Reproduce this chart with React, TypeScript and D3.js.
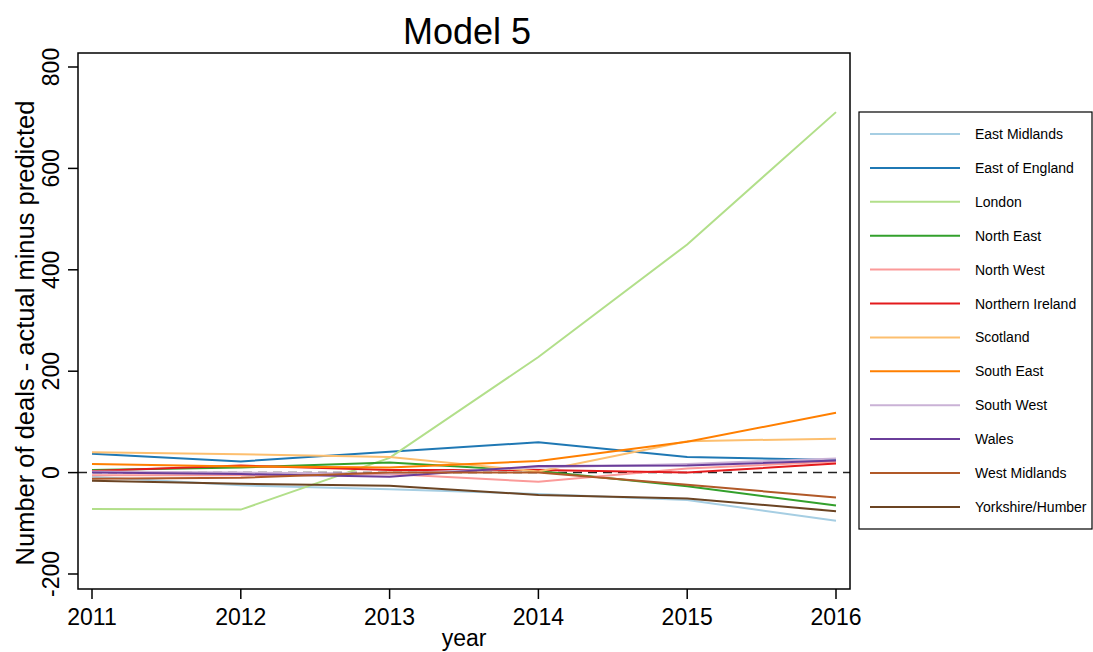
import React from "react";
import * as d3 from "d3";

const years = [2011, 2012, 2013, 2014, 2015, 2016];
const regions = [
  "East Midlands", "East of England", "London", "North East", "North West",
  "Northern Ireland", "Scotland", "South East", "South West", "Wales",
  "West Midlands", "Yorkshire/Humber",
];
const colors = [
  "#a6cee3", "#1f78b4", "#b2df8a", "#33a02c", "#fb9a99", "#e31a1c",
  "#fdbf6f", "#ff7f00", "#cab2d6", "#6a3d9a", "#b15928", "#6b4423",
];
const eastMidlands = [-8, -25, -33, -42, -54, -95];
const eastOfEngland = [37, 22, 41, 60, 31, 25];
const london = [-72, -73, 29, 228, 450, 711];
const northEast = [5, 10, 20, 3, -27, -65];
const northWest = [-5, -5, -3, -18, 8, 22];
const northernIreland = [3, 14, 5, 5, 0, 18];
const scotland = [40, 36, 31, 2, 62, 67];
const southEast = [17, 12, 10, 23, 61, 118];
const southWest = [2, 0, -2, 10, 17, 28];
const wales = [0, -3, -8, 13, 14, 24];
const westMidlands = [-12, -10, 0, 0, -24, -49];
const yorkshire = [-16, -22, -26, -44, -51, -76];
const series = [
  eastMidlands, eastOfEngland, london, northEast, northWest, northernIreland,
  scotland, southEast, southWest, wales, westMidlands, yorkshire,
];
const yTicks = [-200, 0, 200, 400, 600, 800];

const W = 1093, H = 652;
const box = { l: 78, t: 53, r: 850, b: 589 };
const font = "'Liberation Sans', Arial, Helvetica, sans-serif";

export default function App() {
  const x = d3.scaleLinear().domain([2011, 2016]).range([92, 836]);
  const y = d3.scaleLinear().domain([-200, 800]).range([574, 67]);
  const line = d3.line<number>().x((_, i) => x(years[i])).y((d) => y(d));
  const legX = 859, legY = 112, legStep = 33.9;
  return (
    <svg width={W} height={H} style={{ position: "absolute", left: 0, top: 0, background: "#fff" }} fontFamily={font}>
      <rect x={0} y={0} width={W} height={H} fill="#fff" />
      <text x={467} y={44} fontSize={36} textAnchor="middle" fill="#000">Model 5</text>
      <line x1={box.l} x2={box.r} y1={y(0)} y2={y(0)} stroke="#222" strokeWidth={1.5} strokeDasharray="9,6" />
      {series.map((s, i) => (
        <path key={regions[i]} d={line(s) || ""} fill="none" stroke={colors[i]} strokeWidth={2} />
      ))}
      <rect x={box.l} y={box.t} width={box.r - box.l} height={box.b - box.t} fill="none" stroke="#000" strokeWidth={1.5} />
      {yTicks.map((t) => (
        <g key={t}>
          <line x1={box.l - 10} x2={box.l} y1={y(t)} y2={y(t)} stroke="#000" strokeWidth={1.5} />
          <text transform={`translate(59,${y(t)}) rotate(-90)`} fontSize={23} textAnchor="middle" fill="#000">{t}</text>
        </g>
      ))}
      {years.map((yr) => (
        <g key={yr}>
          <line x1={x(yr)} x2={x(yr)} y1={box.b} y2={box.b + 10} stroke="#000" strokeWidth={1.5} />
          <text x={x(yr)} y={625} fontSize={23} textAnchor="middle" fill="#000">{yr}</text>
        </g>
      ))}
      <text x={464} y={646} fontSize={23} textAnchor="middle" fill="#000">year</text>
      <text transform={`translate(34,333) rotate(-90)`} fontSize={25.5} textAnchor="middle" fill="#000">
        Number of deals - actual minus predicted
      </text>
      <rect x={legX} y={legY} width={W - legX - 1} height={529 - legY} fill="#fff" stroke="#000" strokeWidth={1.2} />
      {regions.map((r, i) => (
        <g key={r}>
          <line x1={870} x2={960} y1={legY + 22 + i * legStep} y2={legY + 22 + i * legStep} stroke={colors[i]} strokeWidth={2} />
          <text x={975} y={legY + 22 + i * legStep + 5} fontSize={14} fill="#000">{r}</text>
        </g>
      ))}
    </svg>
  );
}
